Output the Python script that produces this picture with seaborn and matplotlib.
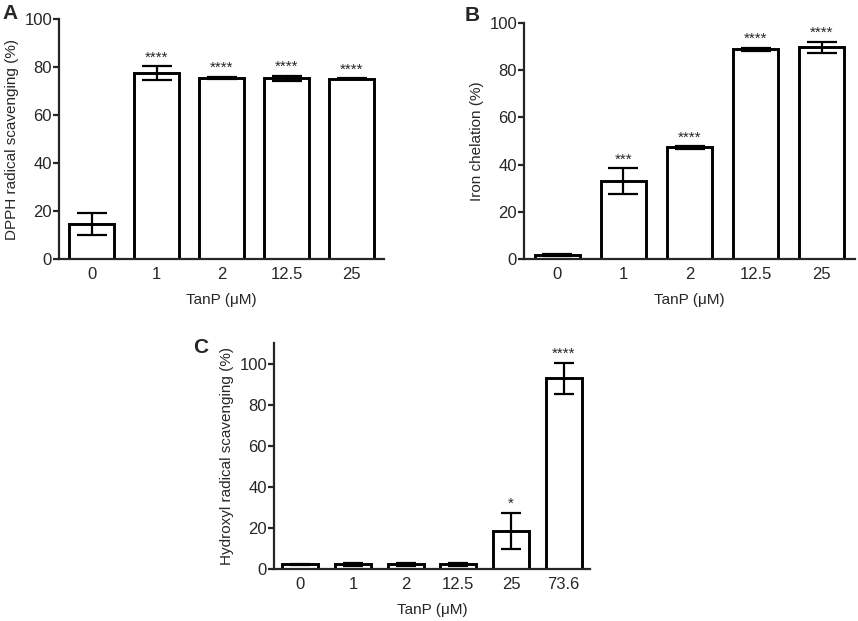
import matplotlib
matplotlib.use("Agg")
import matplotlib.pyplot as plt
import seaborn as sns
import pandas as pd

# Panel A - DPPH radical scavenging
a_conc = ["0", "1", "2", "12.5", "25"]
a_mean = [14.6, 77.5, 75.4, 75.3, 75.2]
a_err = [4.7, 2.8, 0.6, 1.1, 0.3]
a_stars = ["", "****", "****", "****", "****"]

# Panel B - Iron chelation
b_conc = ["0", "1", "2", "12.5", "25"]
b_mean = [1.7, 33.0, 47.4, 88.8, 89.8]
b_err = [0.6, 5.5, 0.6, 0.8, 2.3]
b_stars = ["", "***", "****", "****", "****"]

# Panel C - Hydroxyl radical scavenging
c_conc = ["0", "1", "2", "12.5", "25", "73.6"]
c_mean = [2.2, 2.2, 2.2, 2.2, 18.5, 92.8]
c_err = [0.4, 0.6, 0.5, 0.6, 9.0, 7.7]
c_stars = ["", "", "", "", "*", "****"]

sns.set_style("ticks")
plt.rcParams["font.family"] = ["Liberation Sans", "DejaVu Sans"]

fig = plt.figure(figsize=(8.58, 6.21), dpi=100)


def panel(rect, conc, mean, err, stars, ylabel, ylim, letter, letter_xy, capsize, xtick_in):
    ax = fig.add_axes(rect)
    df = pd.DataFrame({"conc": conc, "mean": mean})
    sns.barplot(data=df, x="conc", y="mean", ax=ax, color="white",
                edgecolor="black", linewidth=2.1, width=0.68, errorbar=None)
    for p, m, e, s in zip(ax.patches, mean, err, stars):
        xc = p.get_x() + p.get_width() / 2
        ax.errorbar(xc, m, yerr=e, color="black", elinewidth=1.6,
                    capsize=capsize, capthick=1.6, zorder=5)
        if s:
            ax.annotate(s, (xc, m + e), xytext=(0, 1), textcoords="offset points",
                        ha="center", va="bottom", fontsize=11)
    ax.set_xlim(-0.5, len(conc) - 0.5)
    ax.set_ylim(*ylim)
    ax.set_yticks([0, 20, 40, 60, 80, 100])
    ax.set_ylabel(ylabel, fontsize=11, labelpad=4)
    ax.set_xlabel("TanP (\u03bcM)", fontsize=11, labelpad=8)
    sns.despine(ax=ax)
    for sp in ["left", "bottom"]:
        ax.spines[sp].set_linewidth(1.6)
    ax.tick_params(axis="y", labelsize=12, width=1.6, length=4, pad=1)
    if xtick_in:
        ax.tick_params(axis="x", labelsize=12, width=1.6, length=4, direction="in", pad=6)
    else:
        ax.tick_params(axis="x", labelsize=12, length=0, pad=6)
    fig.text(letter_xy[0], letter_xy[1], letter, fontsize=15, fontweight="bold",
             ha="left", va="top")
    return ax


panel([59 / 858, 1 - 259 / 621, 325 / 858, 240 / 621], a_conc, a_mean, a_err, a_stars,
      "DPPH radical scavenging (%)", (0, 100), "A", (2 / 858, 1 - 4 / 621), 11, False)
panel([524 / 858, 1 - 259 / 621, 331 / 858, 236 / 621], b_conc, b_mean, b_err, b_stars,
      "Iron chelation (%)", (0, 100), "B", (465 / 858, 1 - 6 / 621), 11, True)
panel([274 / 858, 1 - 569 / 621, 316 / 858, 226 / 621], c_conc, c_mean, c_err, c_stars,
      "Hydroxyl radical scavenging (%)", (0, 110), "C", (193 / 858, 1 - 338 / 621), 7.5, True)

fig.savefig("out.png", dpi=100)
